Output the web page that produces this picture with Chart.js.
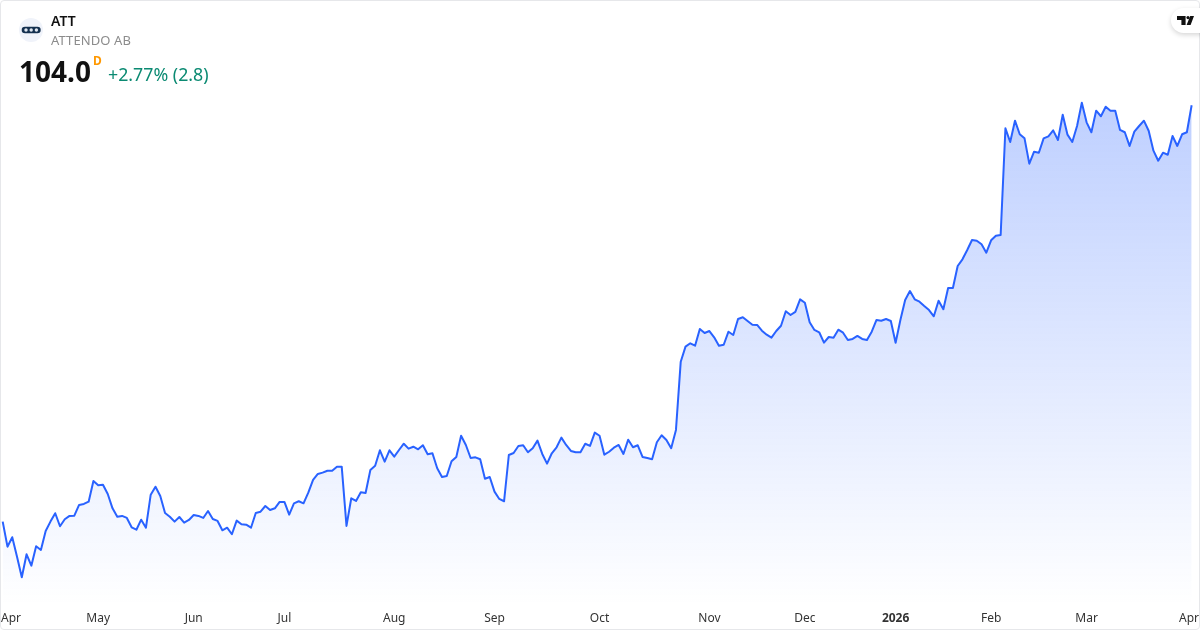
<!DOCTYPE html>
<html lang="en">

<head>
    <meta charset="UTF-8">
    <title>ATT - Attendo AB</title>
    <script src="https://cdn.jsdelivr.net/npm/chart.js"></script>
    <style>
        html, body { margin: 0; padding: 0; background: #fff; }
        .card { position: relative; width: 1200px; height: 630px; overflow: hidden; font-family: "Noto Sans", sans-serif; }
        .card canvas { position: absolute; left: 0; top: 0; }
        .frame { position: absolute; left: 0; top: 0; width: 1198px; height: 628px; border: 1px solid #e6e7ea; border-radius: 4px; pointer-events: none; }
        .logo { position: absolute; left: 19px; top: 18px; width: 24px; height: 24px; }
        .ticker { position: absolute; left: 51px; top: 11px; font-size: 14px; line-height: 20px; font-weight: 600; color: #111111; }
        .name { position: absolute; left: 51px; top: 30px; font-size: 13px; line-height: 20px; letter-spacing: 0.1px; color: #8c8c8c; }
        .price { position: absolute; left: 19px; top: 52px; font-size: 28px; line-height: 38px; font-weight: 700; color: #111111; }
        .interval { position: absolute; left: 93px; top: 53px; font-size: 12px; line-height: 16px; font-weight: 700; color: #ff9800; }
        .change { position: absolute; left: 108px; top: 61px; font-size: 17.8px; line-height: 26px; color: #0b8a72; }
        .tv { position: absolute; left: 1171px; top: 8px; width: 44px; height: 25px; border-radius: 12.5px; background: #fff; box-shadow: 0 2px 5px rgba(0, 0, 0, 0.16); }
        .tv svg { position: absolute; left: 6px; top: 8px; }
    </style>
</head>

<body>

    <div class="card">
        <canvas id="grafico" width="1200" height="630"></canvas>
        <div class="frame"></div>

        <svg class="logo" viewBox="0 0 24 24">
            <circle cx="12" cy="12" r="12" fill="#f0f3fa"/>
            <rect x="2.7" y="8.7" width="19" height="6.6" rx="3.3" fill="#14304f"/>
            <circle cx="7" cy="12" r="1.7" fill="#dfe6f0"/>
            <circle cx="12.2" cy="12" r="1.7" fill="#dfe6f0"/>
            <circle cx="17.4" cy="12" r="1.7" fill="#dfe6f0"/>
        </svg>
        <div class="ticker">ATT</div>
        <div class="name">ATTENDO AB</div>
        <div class="price">104.0</div>
        <div class="interval">D</div>
        <div class="change">+2.77% (2.8)</div>

        <div class="tv">
            <svg width="17" height="9" viewBox="0 0 17 9">
                <path d="M0 0H8.6V9H4.4V4H0zM17 0H13.2L9.6 9H13.6z" fill="#111111"/>
                <circle cx="11" cy="1.6" r="1.6" fill="#111111"/>
            </svg>
        </div>
    </div>

<script>

    // daily closes
    var valores = [
        60.81, 58.21, 59.19, 57.17, 55.04, 57.42, 56.24, 58.25, 57.87, 59.84,
        60.81, 61.68, 60.33, 61.05, 61.40, 61.43, 62.54, 62.64, 62.88, 65.03,
        64.58, 64.64, 63.68, 62.19, 61.32, 61.40, 61.19, 60.22, 59.97, 61.01,
        60.18, 63.60, 64.43, 63.47, 61.71, 61.32, 60.81, 61.29, 60.70, 60.98,
        61.50, 61.40, 61.19, 61.91, 61.08, 60.88, 59.91, 60.18, 59.50, 60.91,
        60.53, 60.49, 60.18, 61.71, 61.84, 62.43, 62.02, 62.19, 62.85, 62.85,
        61.53, 62.71, 62.92, 62.71, 63.81, 65.13, 65.75, 65.89, 66.09, 66.09,
        66.51, 66.51, 60.36, 63.23, 62.95, 63.85, 63.78, 66.17, 66.61, 68.21,
        67.03, 68.21, 67.55, 68.24, 68.89, 68.38, 68.58, 68.31, 68.73, 67.79,
        67.90, 66.34, 65.44, 65.54, 67.07, 67.52, 69.72, 68.76, 67.41, 67.48,
        67.28, 65.26, 65.44, 63.92, 63.16, 62.92, 67.72, 67.93, 68.66, 68.73,
        68.00, 68.42, 69.21, 67.83, 66.82, 67.90, 68.52, 69.52, 68.76, 68.14,
        68.00, 68.00, 68.89, 68.66, 70.04, 69.72, 67.75, 68.06, 68.48, 68.76,
        67.83, 69.31, 68.52, 68.73, 67.52, 67.41, 67.28, 69.04, 69.77, 69.28,
        68.42, 70.32, 77.40, 78.96, 79.31, 79.06, 80.79, 80.38, 80.58, 79.93,
        79.06, 79.16, 80.51, 80.17, 81.83, 82.01, 81.62, 81.24, 81.21, 80.62,
        80.20, 79.89, 80.58, 81.13, 82.63, 82.24, 82.56, 83.87, 83.52, 81.49,
        80.69, 80.45, 79.37, 79.96, 79.89, 80.72, 80.41, 79.65, 79.76, 80.07,
        79.76, 79.65, 80.51, 81.73, 81.65, 81.83, 81.62, 79.37, 81.73, 83.80,
        84.73, 83.87, 83.62, 83.18, 82.76, 82.11, 83.73, 82.84, 85.05, 85.05,
        87.33, 88.02, 88.99, 90.02, 89.95, 89.58, 88.71, 89.99, 90.47, 90.54,
        101.61, 100.19, 102.40, 100.99, 100.57, 97.94, 99.18, 99.08, 100.57, 100.78,
        101.40, 100.40, 103.02, 100.95, 100.19, 101.85, 104.27, 102.23, 101.20, 103.44,
        102.86, 103.85, 103.44, 103.44, 101.44, 101.20, 99.78, 101.26, 101.85, 102.40,
        101.36, 99.29, 98.25, 99.08, 98.87, 100.81, 99.78, 100.99, 101.20, 104.00
    ];

    // index of the first session of each month and its label
    var indiceMeses = [0, 20, 40, 59, 82, 103, 125, 148, 168, 187, 207, 227, 249];
    var nomesMeses = ["Apr", "May", "Jun", "Jul", "Aug", "Sep", "Oct", "Nov", "Dec", "2026", "Feb", "Mar", "Apr"];

    var pontos = valores.map(function (v, i) { return { x: i, y: v }; });

    // area fades from the highest close down to the axis
    function gradienteArea(context) {
        var chart = context.chart;
        if (!chart.chartArea) return 'rgba(41, 98, 255, 0.1)';
        var topo = chart.scales.y.getPixelForValue(Math.max.apply(null, valores));
        var g = chart.ctx.createLinearGradient(0, topo, 0, chart.chartArea.bottom);
        g.addColorStop(0, 'rgba(41, 98, 255, 0.3)');
        g.addColorStop(1, 'rgba(41, 98, 255, 0)');
        return g;
    }

    var contexto = document.getElementById('grafico');
    new Chart(contexto, {
        type: 'line',
        data: {
            datasets: [{
                data: pontos,
                borderColor: '#2962FF',
                borderWidth: 2,
                borderJoinStyle: 'round',
                backgroundColor: gradienteArea,
                fill: 'start',
                pointRadius: 0,
                tension: 0
            }]
        },
        options: {
            responsive: false,
            animation: false,
            layout: { autoPadding: false, padding: { left: 1, right: 1, top: 0, bottom: 0 } },
            plugins: {
                legend: { display: false },
                tooltip: { enabled: false }
            },
            scales: {
                x: {
                    type: 'linear',
                    min: -0.356,
                    max: 250.54,
                    // tickLength only pushes the labels down, the grid itself stays hidden
                    grid: { display: false, drawTicks: true, tickLength: 6 },
                    border: { display: false },
                    afterBuildTicks: function (scale) {
                        scale.ticks = indiceMeses.map(function (i) { return { value: i }; });
                        // first and last labels sit against the chart edges
                        scale.ticks[0].value = scale.min;
                        scale.ticks[scale.ticks.length - 1].value = scale.max;
                    },
                    afterFit: function (scale) { scale.height = 25; },
                    ticks: {
                        autoSkip: false,
                        maxRotation: 0,
                        align: 'inner',
                        padding: 0,
                        color: '#333333',
                        font: function (ctx) {
                            return {
                                family: '"Noto Sans"',
                                size: 12,
                                weight: ctx.tick && ctx.tick.label === '2026' ? 'bold' : 'normal'
                            };
                        },
                        callback: function (v, i) { return nomesMeses[i]; }
                    }
                },
                y: {
                    display: false,
                    min: 52.16,
                    max: 114.92
                }
            }
        }
    });

</script>
</body>

</html>
